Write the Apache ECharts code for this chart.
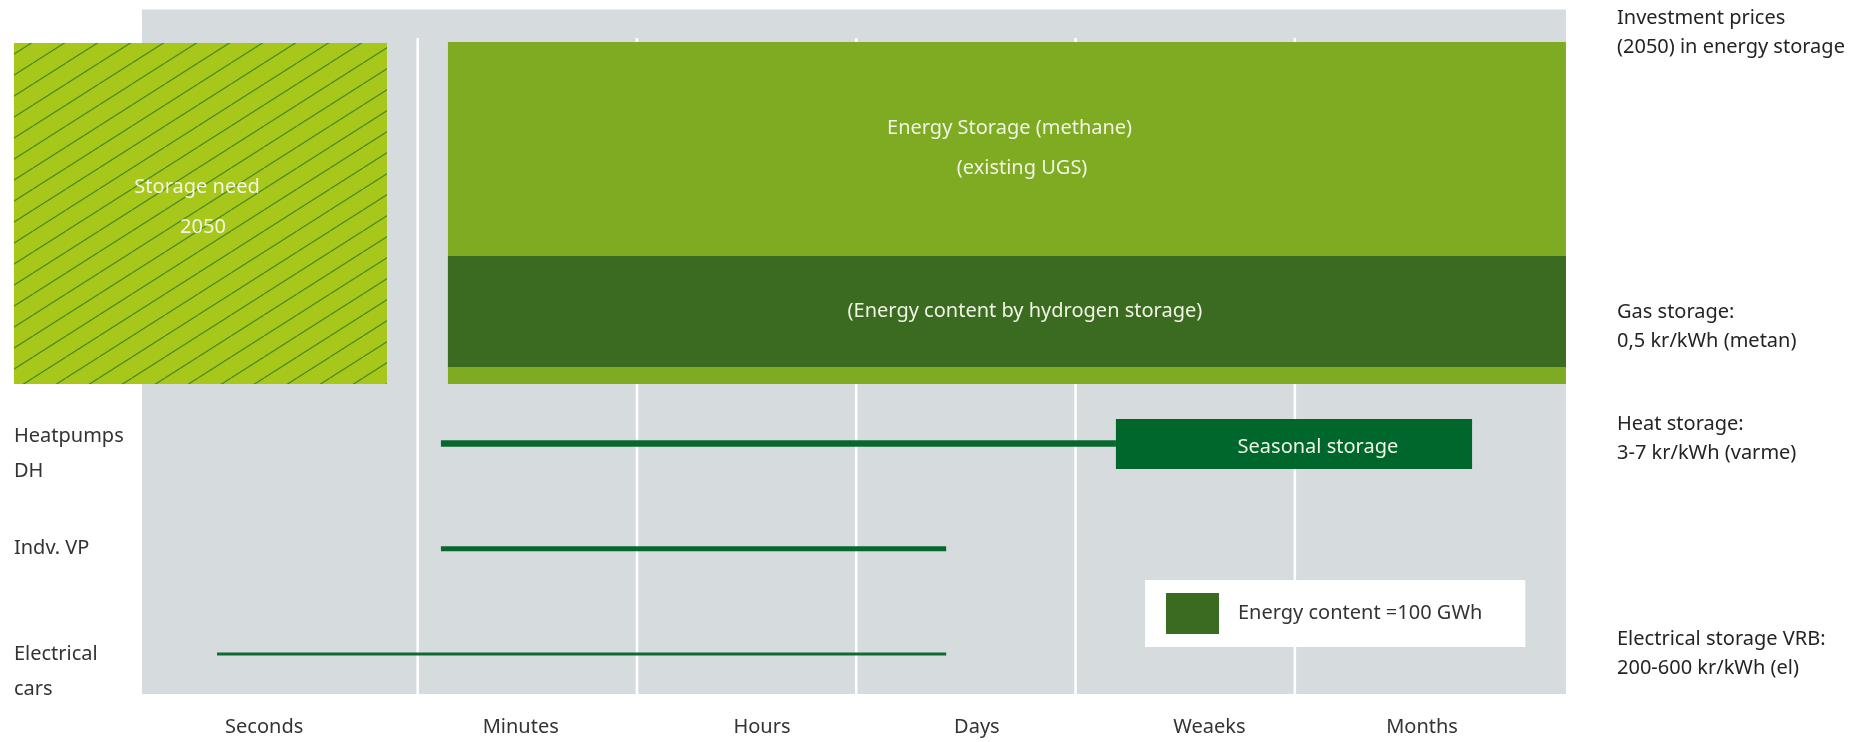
<!DOCTYPE html>
<html>
<head>
<meta charset="utf-8">
<script src="https://cdn.jsdelivr.net/npm/echarts@6/dist/echarts.min.js"></script>
<style>
  html, body { margin: 0; padding: 0; background: #ffffff; }
  #chart { width: 1870px; height: 742px; }
</style>
</head>
<body>
<div id="chart"></div>
<script>
// ---- time scales (horizontal axis) ----
const timescales = ['Seconds', 'Minutes', 'Hours', 'Days', 'Weaeks', 'Months'];
const timescaleTickAt = [-0.2, 0.97, 2.07, 3.05, 4.11, 5.08];
const timescaleBounds = [0.5, 1.5, 2.5, 3.5, 4.5];

// ---- storage rows: discharge-time span of each technology ----
const rowNames = ['Electrical\ncars', 'Indv. VP', 'Heatpumps\nDH'];
const rowLevels = [1, 2, 3];
const rowNameLevels = [1, 2, 3.07];
const rowFrom = [-0.415, 0.606, 0.606];
const rowTo = [2.91, 2.91, 3.684];

// ---- storage blocks: [timeFrom, timeTo, levelBottom, levelTop] ----
const backdrop = [-0.757, 5.736, 0.62, 7.124];
const storageNeed2050 = [-1.341, 0.36, 3.565, 6.805];
const methaneStorage = [0.638, 5.736, 3.565, 6.815];
const hydrogenStorage = [0.638, 5.736, 3.727, 4.781];
const seasonalStorage = [3.684, 5.308, 2.758, 3.233];
const boundTop = 6.853;

// ---- captions inside the blocks: [text, time, level] ----
const captions = [
  ['Storage need', -0.506, 5.437],
  ['2050', -0.479, 5.057],
  ['Energy Storage (methane)', 3.199, 5.998],
  ['(existing UGS)', 3.256, 5.618],
  ['(Energy content by hydrogen storage)', 3.269, 4.254],
  ['Seasonal storage', 4.605, 2.967]
];

// ---- investment prices (right-hand notes) ----
const priceNotes = [
  'Electrical storage VRB:\n200-600 kr/kWh (el)',
  'Heat storage:\n3-7 kr/kWh (varme)',
  'Gas storage:\n0,5 kr/kWh (metan)',
  'Investment prices\n(2050) in energy storage'
];
const priceNoteLevels = [1, 3.04, 4.11, 6.9];

const legendName = 'Energy content =100 GWh';

// ---- styles ----
const FONT = '"Noto Sans", "Open Sans", sans-serif';
const rowLineWidths = [3, 5, 6.5];
const rowLineColors = ['#0f6a31', '#08672d', '#08672d'];

function hatchCanvas() {
  const c = document.createElement('canvas');
  c.width = 33; c.height = 21;
  const g = c.getContext('2d');
  g.fillStyle = '#a8c71b';
  g.fillRect(0, 0, 33, 21);
  g.strokeStyle = '#4a8a1e';
  g.lineWidth = 1.25;
  [-33, 0, 33].forEach(function (dx) {
    g.beginPath();
    g.moveTo(dx, 21);
    g.lineTo(dx + 33, 0);
    g.stroke();
  });
  return c;
}
const hatch = { image: hatchCanvas(), repeat: 'repeat' };

function rectOf(api, x0, x1, y0, y1) {
  const a = api.coord([x0, y1]);
  const b = api.coord([x1, y0]);
  return { x: a[0], y: a[1], width: b[0] - a[0], height: b[1] - a[1] };
}

function blockSeries(name, block, fill, extra) {
  return Object.assign({
    type: 'custom',
    name: name,
    silent: true,
    clip: false,
    data: [block],
    renderItem: function (params, api) {
      return {
        type: 'rect',
        shape: rectOf(api, api.value(0), api.value(1), api.value(2), api.value(3)),
        style: { fill: fill === 'visual' ? api.visual('color') : fill }
      };
    }
  }, extra || {});
}

function nearestIndex(list, v) {
  let best = 0;
  list.forEach(function (t, i) {
    if (Math.abs(t - v) < Math.abs(list[best] - v)) best = i;
  });
  return best;
}

const chart = echarts.init(document.getElementById('chart'), null, { renderer: 'canvas' });

chart.setOption({
  animation: false,
  backgroundColor: '#ffffff',
  grid: { left: 1, right: 301, top: 6.71, bottom: 45.9, containLabel: false },
  xAxis: {
    type: 'value',
    min: -1.4,
    max: 5.75,
    axisLine: { show: false },
    axisTick: { show: false },
    splitLine: { show: false },
    axisLabel: {
      customValues: timescaleTickAt,
      margin: 19,
      fontSize: 20,
      lineHeight: 24,
      fontFamily: FONT,
      color: '#333333',
      formatter: function (v) { return timescales[nearestIndex(timescaleTickAt, v)]; }
    }
  },
  yAxis: [
    { type: 'value', min: 0.6, max: 7.15, show: false },
    {
      type: 'value', min: 0.6, max: 7.15, position: 'right',
      axisLine: { show: false },
      axisTick: { show: false },
      splitLine: { show: false },
      axisLabel: {
        customValues: priceNoteLevels,
        margin: 48,
        align: 'left',
        fontSize: 20,
        lineHeight: 29,
        fontFamily: FONT,
        color: '#242424',
        formatter: function (v) { return priceNotes[nearestIndex(priceNoteLevels, v)]; }
      }
    }
  ],
  legend: {
    data: [legendName],
    left: 1145,
    top: 580,
    orient: 'horizontal',
    backgroundColor: '#ffffff',
    padding: [13, 43, 13, 21],
    itemWidth: 53,
    itemHeight: 41,
    icon: 'rect',
    selectedMode: false,
    textStyle: { fontSize: 20, fontFamily: FONT, color: '#333333', padding: [0, 0, 0, 14] }
  },
  series: [
    // grey backdrop of the time scale
    blockSeries('backdrop', backdrop, '#d6dbde'),
    // white boundaries between time scales
    {
      type: 'custom', name: 'bounds', silent: true, clip: false,
      data: timescaleBounds.map(function (b) { return [b]; }),
      renderItem: function (params, api) {
        const x = api.value(0);
        const p0 = api.coord([x, backdrop[2]]);
        const p1 = api.coord([x, boundTop]);
        return {
          type: 'line',
          shape: { x1: p0[0], y1: p0[1], x2: p1[0], y2: p1[1] },
          style: { stroke: '#ffffff', lineWidth: 2.5 }
        };
      }
    },
    blockSeries('Storage need 2050', storageNeed2050, hatch),
    blockSeries('Energy Storage (methane)', methaneStorage, '#7eab22'),
    blockSeries(legendName, hydrogenStorage, 'visual', { itemStyle: { color: '#3a6b21' } }),
    // discharge-time lines per row
    {
      type: 'custom', name: 'rows', silent: true, clip: false,
      data: rowLevels.map(function (lv, i) { return [rowFrom[i], rowTo[i], lv]; }),
      renderItem: function (params, api) {
        const i = params.dataIndex;
        const p0 = api.coord([api.value(0), api.value(2)]);
        const p1 = api.coord([api.value(1), api.value(2)]);
        return {
          type: 'line',
          shape: { x1: p0[0], y1: p0[1], x2: p1[0], y2: p1[1] },
          style: { stroke: rowLineColors[i], lineWidth: rowLineWidths[i], lineCap: 'butt' }
        };
      }
    },
    blockSeries('Seasonal storage', seasonalStorage, '#00672c'),
    // row names on the left
    {
      type: 'custom', name: 'rowNames', silent: true, clip: false,
      data: rowNameLevels.map(function (lv) { return [storageNeed2050[0], lv]; }),
      renderItem: function (params, api) {
        const p = api.coord([api.value(0), api.value(1)]);
        return {
          type: 'text',
          x: p[0],
          y: p[1] - 17.5,
          style: {
            text: rowNames[params.dataIndex],
            fill: '#333333',
            fontSize: 20,
            fontFamily: FONT,
            lineHeight: 35,
            align: 'left',
            verticalAlign: 'top'
          }
        };
      }
    },
    // captions inside the blocks
    {
      type: 'custom', name: 'captions', silent: true, clip: false,
      data: captions.map(function (c) { return [c[1], c[2]]; }),
      renderItem: function (params, api) {
        const p = api.coord([api.value(0), api.value(1)]);
        return {
          type: 'text',
          x: p[0],
          y: p[1],
          style: {
            text: captions[params.dataIndex][0],
            fill: '#f1f4e4',
            fontSize: 20,
            fontFamily: FONT,
            align: 'center',
            verticalAlign: 'middle'
          }
        };
      }
    }
  ]
});
</script>
</body>
</html>
